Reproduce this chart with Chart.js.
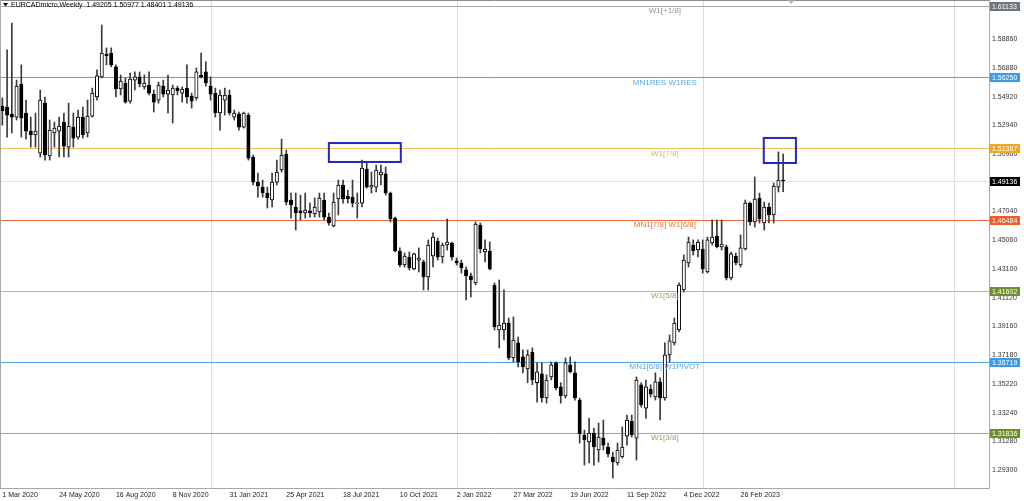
<!DOCTYPE html>
<html>
<head>
<meta charset="utf-8">
<title>EURCADmicro, Weekly</title>
<script src="https://cdn.jsdelivr.net/npm/chart.js@4.4.1/dist/chart.umd.min.js"></script>
<style>
  html, body { margin: 0; padding: 0; background: #fff; }
  #wrap { width: 1024px; height: 501px; }
</style>
</head>
<body>
<div id="wrap"><canvas id="chart" width="1024" height="501"></canvas></div>
<script>
/* ---------- data (weekly bars, 1 Mar 2020 .. 30 Apr 2023) ---------- */

const symbol = "EURCADmicro,Weekly";

const opens = [
  1.5428, 1.5421, 1.5373, 1.5352, 1.5579, 1.5380, 1.5256, 1.5229, 1.5105, 1.5448,
  1.5085, 1.5243, 1.5256, 1.5318, 1.5146, 1.5283, 1.5215, 1.5352, 1.5243, 1.5359,
  1.5490, 1.5628, 1.5785, 1.5792, 1.5697, 1.5545, 1.5586, 1.5462, 1.5606, 1.5628,
  1.5559, 1.5572, 1.5510, 1.5469, 1.5565, 1.5510, 1.5504, 1.5551, 1.5517, 1.5551,
  1.5497, 1.5483, 1.5641, 1.5662, 1.5565, 1.5517, 1.5380, 1.5469, 1.5504, 1.5352,
  1.5373, 1.5283, 1.5366, 1.5078, 1.4906, 1.4872, 1.4831, 1.4783, 1.4906, 1.4989,
  1.5099, 1.4783, 1.4735, 1.4708, 1.4694, 1.4708, 1.4687, 1.4701, 1.4783, 1.4666,
  1.4605, 1.4790, 1.4886, 1.4810, 1.4803, 1.4756, 1.4762, 1.4996, 1.4872, 1.4872,
  1.4955, 1.4962, 1.4831, 1.4659, 1.4433, 1.4337, 1.4392, 1.4310, 1.4371, 1.4358,
  1.4255, 1.4399, 1.4502, 1.4392, 1.4474, 1.4488, 1.4365, 1.4351, 1.4303, 1.4262,
  1.4214, 1.4611, 1.4426, 1.4433, 1.4200, 1.3891, 1.3891, 1.3939, 1.3699, 1.3802,
  1.3706, 1.3624, 1.3740, 1.3529, 1.3590, 1.3424, 1.3569, 1.3665, 1.3500, 1.3438,
  1.3652, 1.3597, 1.3410, 1.3170, 1.3122, 1.3184, 1.3067, 1.3149, 1.3088, 1.3019,
  1.2978, 1.3019, 1.3163, 1.3266, 1.3149, 1.3515, 1.3355, 1.3486, 1.3431, 1.3535,
  1.3424, 1.3720, 1.3802, 1.3891, 1.4166, 1.4351, 1.4474, 1.4440, 1.4447, 1.4289,
  1.4488, 1.4536, 1.4461, 1.4461, 1.4248, 1.4399, 1.4337, 1.4447, 1.4762, 1.4632,
  1.4797, 1.4625, 1.4735, 1.4680, 1.4872, 1.49205
];

const highs = [
  1.5483, 1.5813, 1.5998, 1.5606, 1.5710, 1.5469, 1.5352, 1.5380, 1.5538, 1.5490,
  1.5332, 1.5318, 1.5352, 1.5380, 1.5448, 1.5380, 1.5400, 1.5421, 1.5469, 1.5551,
  1.5676, 1.5984, 1.5827, 1.5827, 1.5710, 1.5641, 1.5621, 1.5655, 1.5662, 1.5662,
  1.5641, 1.5662, 1.5538, 1.5593, 1.5606, 1.5641, 1.5572, 1.5565, 1.5559, 1.5710,
  1.5517, 1.5689, 1.5792, 1.5731, 1.5628, 1.5551, 1.5538, 1.5551, 1.5538, 1.5400,
  1.5387, 1.5387, 1.5380, 1.5092, 1.4968, 1.4920, 1.4872, 1.4968, 1.5057, 1.5201,
  1.5126, 1.4831, 1.4831, 1.4817, 1.4831, 1.4762, 1.4797, 1.4831, 1.4831, 1.4694,
  1.4831, 1.4920, 1.4920, 1.4851, 1.4920, 1.4831, 1.5057, 1.5037, 1.4975, 1.5023,
  1.5023, 1.5010, 1.4838, 1.4666, 1.4454, 1.4419, 1.4426, 1.4419, 1.4454, 1.4371,
  1.4509, 1.4557, 1.4522, 1.4488, 1.4653, 1.4495, 1.4385, 1.4371, 1.4323, 1.4282,
  1.4632, 1.4625, 1.4509, 1.4495, 1.4214, 1.4234, 1.4166, 1.3973, 1.3980, 1.3843,
  1.3754, 1.3754, 1.3768, 1.3665, 1.3665, 1.3583, 1.3672, 1.3672, 1.3529, 1.3699,
  1.3706, 1.3672, 1.3424, 1.3204, 1.3286, 1.3218, 1.3252, 1.3273, 1.3115, 1.3053,
  1.3115, 1.3225, 1.3307, 1.3307, 1.3569, 1.3529, 1.3548, 1.3515, 1.3597, 1.3562,
  1.3802, 1.3857, 1.3973, 1.4214, 1.4406, 1.4529, 1.4509, 1.4509, 1.4509, 1.4529,
  1.4646, 1.4646, 1.4646, 1.4474, 1.4426, 1.4419, 1.4543, 1.4783, 1.4769, 1.4941,
  1.4831, 1.4769, 1.4762, 1.4899, 1.5113, 1.50977
];

const lows = [
  1.5297, 1.5215, 1.5243, 1.5332, 1.5215, 1.5201, 1.5146, 1.5146, 1.5078, 1.5057,
  1.5057, 1.5146, 1.5078, 1.5078, 1.5078, 1.5146, 1.5201, 1.5208, 1.5215, 1.5352,
  1.5469, 1.5621, 1.5710, 1.5697, 1.5490, 1.5504, 1.5448, 1.5448, 1.5538, 1.5559,
  1.5545, 1.5504, 1.5387, 1.5448, 1.5490, 1.5380, 1.5311, 1.5504, 1.5455, 1.5448,
  1.5414, 1.5469, 1.5621, 1.5565, 1.5469, 1.5352, 1.5263, 1.5366, 1.5366, 1.5332,
  1.5263, 1.5277, 1.5057, 1.4886, 1.4803, 1.4803, 1.4728, 1.4735, 1.4886, 1.4975,
  1.4749, 1.4659, 1.4577, 1.4646, 1.4659, 1.4666, 1.4666, 1.4666, 1.4646, 1.4611,
  1.4598, 1.4680, 1.4762, 1.4762, 1.4735, 1.4659, 1.4735, 1.4865, 1.4831, 1.4838,
  1.4886, 1.4817, 1.4632, 1.4426, 1.4323, 1.4323, 1.4303, 1.4303, 1.4289, 1.4166,
  1.4166, 1.4323, 1.4371, 1.4351, 1.4440, 1.4371, 1.4337, 1.4282, 1.4097, 1.4118,
  1.4200, 1.4419, 1.4358, 1.4303, 1.3891, 1.3768, 1.3822, 1.3686, 1.3672, 1.3638,
  1.3597, 1.3529, 1.3515, 1.3396, 1.3396, 1.3389, 1.3548, 1.3479, 1.3389, 1.3424,
  1.3597, 1.3410, 1.3115, 1.2964, 1.2978, 1.2964, 1.2985, 1.3067, 1.3019, 1.2875,
  1.2964, 1.3012, 1.3101, 1.3156, 1.2998, 1.3362, 1.3286, 1.3431, 1.3410, 1.3273,
  1.3410, 1.3672, 1.3788, 1.3878, 1.4152, 1.4323, 1.4406, 1.4392, 1.4282, 1.4282,
  1.4474, 1.4454, 1.4440, 1.4234, 1.4234, 1.4337, 1.4323, 1.4440, 1.4611, 1.4598,
  1.4625, 1.4577, 1.4625, 1.4625, 1.4838, 1.48401
];

const closes = [
  1.5394, 1.5366, 1.5352, 1.5565, 1.5345, 1.5256, 1.5229, 1.5256, 1.5469, 1.5092,
  1.5263, 1.5277, 1.5290, 1.5153, 1.5290, 1.5208, 1.5352, 1.5229, 1.5359, 1.5517,
  1.5635, 1.5792, 1.5772, 1.5710, 1.5545, 1.5600, 1.5455, 1.5613, 1.5628, 1.5579,
  1.5586, 1.5517, 1.5455, 1.5572, 1.5510, 1.5538, 1.5551, 1.5531, 1.5545, 1.5490,
  1.5462, 1.5662, 1.5628, 1.5586, 1.5510, 1.5380, 1.5504, 1.5504, 1.5380, 1.5380,
  1.5283, 1.5380, 1.5071, 1.4906, 1.4879, 1.4831, 1.4797, 1.4906, 1.4975, 1.5092,
  1.4769, 1.4749, 1.4694, 1.4694, 1.4714, 1.4694, 1.4735, 1.4797, 1.4666, 1.4625,
  1.4769, 1.4886, 1.4790, 1.4790, 1.4762, 1.4762, 1.5003, 1.4872, 1.4886, 1.4989,
  1.4975, 1.4831, 1.4653, 1.4433, 1.4337, 1.4399, 1.4317, 1.4413, 1.4385, 1.4255,
  1.4474, 1.4529, 1.4392, 1.4474, 1.4495, 1.4392, 1.4351, 1.4317, 1.4262, 1.4234,
  1.4618, 1.4447, 1.4447, 1.4310, 1.3912, 1.3925, 1.3939, 1.3699, 1.3822, 1.3672,
  1.3638, 1.3720, 1.3548, 1.3603, 1.3424, 1.3548, 1.3652, 1.3493, 1.3438, 1.3665,
  1.3603, 1.3424, 1.3177, 1.3136, 1.3184, 1.3088, 1.3156, 1.3101, 1.3040, 1.2985,
  1.3067, 1.3088, 1.3273, 1.3170, 1.3548, 1.3376, 1.3500, 1.3451, 1.3535, 1.3424,
  1.3720, 1.3816, 1.3939, 1.4200, 1.4371, 1.4495, 1.4433, 1.4495, 1.4310, 1.4509,
  1.4529, 1.4461, 1.4481, 1.4248, 1.4413, 1.4351, 1.4454, 1.4762, 1.4632, 1.4790,
  1.4653, 1.4735, 1.4680, 1.4879, 1.4920, 1.49136
];

// x axis: one slot per week, the chart is shifted so empty slots follow the last bar
const barSlots = Array.from({ length: 209 }, (_, i) => i);
const dateTicks = [
  "1 Mar 2020", "24 May 2020", "16 Aug 2020", "8 Nov 2020", "31 Jan 2021",
  "25 Apr 2021", "18 Jul 2021", "10 Oct 2021", "2 Jan 2022", "27 Mar 2022",
  "19 Jun 2022", "11 Sep 2022", "4 Dec 2022", "26 Feb 2023"
];
const yearBars = [44, 96, 148, 201];

const priceTicks = [
  1.58860, 1.56880, 1.54920, 1.52940, 1.50960, 1.48980, 1.47040, 1.45060,
  1.43100, 1.41120, 1.39160, 1.37180, 1.35220, 1.33240, 1.31280, 1.29300
];

// Murrey / pivot levels
const levelNames = ["W1[+1/8]", "MN1RES W1RES", "W1[7/8]", "MN1[7/8] W1[6/8]", "W1[5/8]", "MN1[6/8] W1PIVOT", "W1[3/8]"];
const levelPrices = [1.61133, 1.56250, 1.51367, 1.46484, 1.41602, 1.36719, 1.31836];

// drawn rectangles (bar index / price)
const boxFrom = [69.0, 160.9];
const boxTo = [84.2, 167.7];
const boxHigh = [1.5174, 1.5209];
const boxLow = [1.5044, 1.5037];

/* ---------- styles ---------- */

const FONT = '"Liberation Sans", Arial, sans-serif';

const levelStyle = [
  { line: "#a3abb0", text: "#8c969c", box: "#6d777d" },
  { line: "#4fa3ea", text: "#5aa6e2", box: "#3d9ae8" },
  { line: "#f2c25a", text: "#e9b24e", box: "#f3a52a" },
  { line: "#f06a38", text: "#f0703f", box: "#f25a26" },
  { line: "#b5bc88", text: "#8eaa52", box: "#6f8f2a" },
  { line: "#4fa3ea", text: "#5aa6e2", box: "#3d9ae8" },
  { line: "#a2b070", text: "#8eaa52", box: "#6f8f2a" }
];

const levelLabelBar = 140;

/* ---------- overlay plugin: levels, boxes, frame ---------- */

function priceBox(ctx, a, yPix, text, bg) {
  let top = Math.round(yPix) - 4;
  if (top < 2) top = 2;
  ctx.fillStyle = bg;
  ctx.fillRect(a.right + 1, top, 30, 9);
  ctx.fillStyle = "#ffffff";
  ctx.font = "7px " + FONT;
  ctx.textAlign = "left";
  ctx.textBaseline = "middle";
  ctx.fillText(text, a.right + 3, top + 4.8);
}

const overlay = {
  id: "overlay",

  beforeDatasetsDraw(chart) {
    const { ctx, chartArea: a, scales: { x, y } } = chart;
    ctx.save();
    ctx.lineWidth = 1;

    // year separators
    ctx.strokeStyle = "#dddddd";
    yearBars.forEach(b => {
      const px = Math.round(x.getPixelForValue(b)) + 0.5;
      ctx.beginPath();
      ctx.moveTo(px, a.top);
      ctx.lineTo(px, a.bottom);
      ctx.stroke();
    });

    // bid line
    const bid = Math.round(y.getPixelForValue(closes[closes.length - 1])) + 0.5;
    ctx.strokeStyle = "#e2e2e2";
    ctx.beginPath();
    ctx.moveTo(a.left, bid);
    ctx.lineTo(a.right, bid);
    ctx.stroke();

    levelPrices.forEach((p, i) => {
      const ly = Math.round(y.getPixelForValue(p)) + 0.5;
      ctx.strokeStyle = levelStyle[i].line;
      ctx.beginPath();
      ctx.moveTo(a.left, ly);
      ctx.lineTo(a.right, ly);
      ctx.stroke();
    });
    ctx.restore();
  },

  afterDatasetsDraw(chart) {
    const { ctx, scales: { x, y } } = chart;
    ctx.save();

    // rectangles
    ctx.strokeStyle = "#2626c2";
    ctx.lineWidth = 2;
    boxFrom.forEach((b, i) => {
      const x0 = x.getPixelForValue(b);
      const x1 = x.getPixelForValue(boxTo[i]);
      const y0 = y.getPixelForValue(boxHigh[i]);
      const y1 = y.getPixelForValue(boxLow[i]);
      ctx.strokeRect(x0, y0, x1 - x0, y1 - y0);
    });

    // level captions
    ctx.font = "8px " + FONT;
    ctx.textAlign = "center";
    ctx.textBaseline = "middle";
    const cx = x.getPixelForValue(levelLabelBar);
    levelPrices.forEach((p, i) => {
      const ly = y.getPixelForValue(p);
      ctx.fillStyle = levelStyle[i].text;
      ctx.fillText(levelNames[i], cx, ly + 5);
    });
    ctx.restore();
  },

  afterDraw(chart) {
    const { ctx, chartArea: a, scales: { x, y } } = chart;
    ctx.save();

    // frame
    ctx.strokeStyle = "#8c8c8c";
    ctx.lineWidth = 1;
    ctx.beginPath();
    ctx.moveTo(0, 0.5); ctx.lineTo(a.right, 0.5);
    ctx.stroke();
    ctx.strokeStyle = "#a8a8a8";
    ctx.beginPath();
    ctx.moveTo(0.5, 0); ctx.lineTo(0.5, a.bottom);
    ctx.moveTo(a.right + 0.5, 0); ctx.lineTo(a.right + 0.5, a.bottom + 0.5);
    ctx.moveTo(0, a.bottom + 0.5); ctx.lineTo(a.right + 0.5, a.bottom + 0.5);
    ctx.stroke();

    // chart shift marker
    const sx = x.getPixelForValue(166.7);
    ctx.fillStyle = "#b0b0b0";
    ctx.beginPath();
    ctx.moveTo(sx - 3.5, 0); ctx.lineTo(sx + 3.5, 0); ctx.lineTo(sx, 4);
    ctx.closePath();
    ctx.fill();

    // price boxes on the axis
    const last = closes.length - 1;
    levelPrices.forEach((p, i) => {
      priceBox(ctx, a, y.getPixelForValue(p), p.toFixed(5), levelStyle[i].box);
    });
    priceBox(ctx, a, y.getPixelForValue(closes[last]), closes[last].toFixed(5), "#000000");

    // title
    ctx.fillStyle = "#000";
    ctx.beginPath();
    ctx.moveTo(3, 3); ctx.lineTo(8, 3); ctx.lineTo(5.5, 6.5);
    ctx.closePath();
    ctx.fill();
    ctx.font = "7px " + FONT;
    ctx.textAlign = "left";
    ctx.textBaseline = "middle";
    const ohlc = [opens[last], highs[last], lows[last], closes[last]].map(v => v.toFixed(5)).join(" ");
    ctx.fillText(symbol + "  " + ohlc, 11, 5.5);
    ctx.restore();
  }
};

/* ---------- chart ---------- */

const bodyColors = opens.map((o, i) => (closes[i] >= o ? "#ffffff" : "#000000"));

new Chart(document.getElementById("chart"), {
  type: "bar",
  data: {
    labels: barSlots,
    datasets: [
      {
        label: "body",
        data: opens.map((o, i) => [o, closes[i]]),
        backgroundColor: bodyColors,
        borderColor: "#000000",
        borderWidth: 1,
        borderSkipped: false,
        barThickness: 3.4,
        minBarLength: 1,
        grouped: false,
        order: 0
      },
      {
        label: "wick",
        data: lows.map((l, i) => [l, highs[i]]),
        backgroundColor: "#3a3a3a",
        borderWidth: 0,
        barThickness: 1,
        grouped: false,
        order: 1
      }
    ]
  },
  options: {
    responsive: false,
    animation: false,
    events: [],
    layout: { padding: { top: 1, left: 0, right: 0, bottom: 0 } },
    plugins: {
      legend: { display: false },
      tooltip: { enabled: false },
      title: { display: false }
    },
    scales: {
      x: {
        type: "category",
        offset: true,
        afterFit(s) {
          s.height = 13;
          s.paddingLeft = 0;
          s.paddingRight = 0;
        },
        grid: { display: false, drawTicks: false },
        border: { display: false },
        ticks: {
          autoSkip: false,
          maxRotation: 0,
          minRotation: 0,
          align: "start",
          padding: 3,
          color: "#222",
          font: { family: FONT, size: 7 },
          callback: (v, i) => (i % 12 === 0 && dateTicks[i / 12]) ? dateTicks[i / 12] : ""
        }
      },
      y: {
        position: "right",
        min: 1.28065,
        max: 1.61489,
        afterFit(s) {
          s.width = 35;
          s.paddingTop = 0;
          s.paddingBottom = 0;
        },
        afterBuildTicks(s) { s.ticks = priceTicks.map(v => ({ value: v })); },
        grid: { display: false, drawTicks: false },
        border: { display: false },
        ticks: {
          padding: 3,
          color: "#333",
          font: { family: FONT, size: 7 },
          callback: v => Number(v).toFixed(5)
        }
      }
    }
  },
  plugins: [overlay]
});
</script>
</body>
</html>
